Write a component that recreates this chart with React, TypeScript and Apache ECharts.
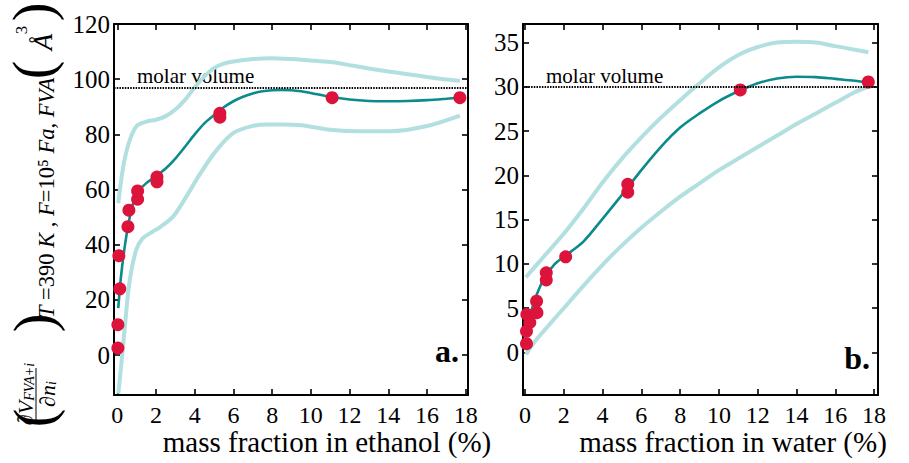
import React, { useEffect, useRef } from "react";
import * as echarts from "echarts";

const FONT = "Liberation Serif, DejaVu Serif, serif";

// ---- Panel a: FVA in ethanol ----
const ethanolPoints: [number, number][] = [
  [0.03, 2.5], [0.03, 11], [0.13, 24], [0.08, 36], [0.55, 46.5], [0.6, 52.5],
  [1.05, 56.5], [1.05, 59.5], [2.05, 64.5], [2.05, 62.8], [5.3, 87.6], [5.3, 86.2],
  [11.1, 93.3], [17.7, 93.3],
];
const ethanolFit: [number, number][] = [
  [0.05, 17], [0.2, 29], [0.4, 40], [0.6, 48.5], [0.8, 54.5], [1.0, 58.5], [1.5, 62.3],
  [2, 64.8], [2.5, 67.6], [3, 71.2], [3.5, 75.5], [4, 80], [4.5, 84], [5, 87], [5.5, 89.8],
  [6, 92], [6.5, 93.6], [7, 94.8], [7.5, 95.6], [8, 96], [8.5, 96.1], [9, 96], [9.5, 95.6],
  [10, 95], [11, 93.6], [12, 92.6], [13, 92.1], [14, 92], [15, 92.1], [16, 92.4], [17, 92.9],
  [17.7, 93.3],
];
const ethanolUpper: [number, number][] = [
  [0.05, 55], [0.3, 68], [0.6, 77], [1.0, 83], [1.5, 84.6], [2, 85.3], [2.5, 86.6], [3, 89],
  [3.5, 92.5], [4, 97], [4.5, 101], [5, 104], [5.5, 105.6], [6, 106.4], [7, 107.3], [8, 107.6],
  [9, 107.3], [10, 106.8], [11, 106.2], [12, 105.1], [13, 103.9], [14, 102.8], [15, 101.8],
  [16, 100.8], [17, 99.9], [17.7, 99.4],
];
const ethanolLower: [number, number][] = [
  [0.05, -14], [0.2, -4], [0.36, 8], [0.62, 26], [0.97, 38], [1.3, 42.2], [1.8, 44.6],
  [2.2, 46.3], [2.86, 50], [3.4, 55.5], [4.26, 65.5], [5.1, 74], [6, 80.5], [6.9, 82.9],
  [7.7, 83.6], [8.5, 83.6], [9.5, 83.3], [11, 81.7], [12.5, 81.1], [14.1, 81.1], [16, 83],
  [17.7, 86.8],
];
const ethanolMolarVolume = 97;

// ---- Panel b: FVA in water ----
const waterPoints: [number, number][] = [
  [0.08, 1.0], [0.08, 2.4], [0.25, 3.4], [0.1, 4.3], [0.6, 5.8], [0.62, 4.5], [1.1, 9.0],
  [1.1, 8.2], [2.1, 10.8], [5.3, 19.0], [5.3, 18.1], [11.1, 29.65], [17.7, 30.55],
];
const waterFit: [number, number][] = [
  [0.05, 2.6], [0.3, 4.5], [0.6, 6.5], [1, 8.4], [1.5, 9.9], [2, 10.8], [3, 12.5], [4, 15.1],
  [5, 17.8], [6, 20.6], [7, 23.2], [8, 25.4], [9, 27], [10, 28.4], [11, 29.5], [12, 30.4],
  [13, 30.95], [14, 31.15], [15, 31.1], [16, 30.9], [17, 30.7], [17.7, 30.5],
];
const waterUpper: [number, number][] = [
  [0.05, 8.5], [1, 10.9], [2, 13.4], [3, 16.2], [4, 19.2], [5, 21.9], [6, 24.3], [7, 26.5],
  [8, 28.5], [9, 30.4], [10, 32.2], [11, 33.6], [12, 34.5], [13, 35], [14, 35.1], [15, 35],
  [16, 34.6], [17, 34.2], [17.7, 33.9],
];
const waterLower: [number, number][] = [
  [0.05, -0.2], [0.5, 1.2], [1, 2.5], [2, 5], [3, 7.5], [4, 9.9], [5, 12.1], [6, 14.1],
  [7, 15.9], [8, 17.6], [9, 19.1], [10, 20.6], [11, 21.9], [12, 23.2], [13, 24.5], [14, 25.8],
  [15, 27], [16, 28.2], [17, 29.4], [17.7, 30],
];
const waterMolarVolume = 30;

// ---- ticks ----
const xTicks = [0, 2, 4, 6, 8, 10, 12, 14, 16, 18];
const ethanolYTicks = [0, 20, 40, 60, 80, 100, 120];
const waterYTicks = [0, 5, 10, 15, 20, 25, 30, 35];

const xNameA = "mass fraction in ethanol (%)";
const xNameB = "mass fraction in water (%)";

const TEAL = "#0b8b8b";
const PALE = "#b2dfdf";
const RED = "#dc143c";

function axisCommon(ticks: number[], showLabel: boolean, isX: boolean) {
  return {
    type: "value" as const,
    axisLine: { show: true, onZero: false, lineStyle: { color: "#000", width: 2 } },
    axisTick: {
      show: true,
      inside: true,
      length: 6,
      customValues: ticks,
      lineStyle: { color: "#000", width: 1.6 },
    },
    axisLabel: {
      show: showLabel,
      customValues: ticks,
      margin: isX ? 8 : 4,
      fontFamily: FONT,
      fontSize: isX ? 24 : 25,
      color: "#000",
    },
    splitLine: { show: false },
  };
}

function txt(text: string, x: number, y: number, size: number, extra: any = {}) {
  const align = extra.align || "left";
  const valign = extra.verticalAlign || "middle";
  return {
    type: "text",
    x,
    y,
    rotation: extra.rotation || 0,
    silent: true,
    style: {
      text,
      fill: "#000",
      fontFamily: FONT,
      fontSize: size,
      fontStyle: extra.fontStyle || "normal",
      fontWeight: extra.fontWeight || "normal",
      align,
      verticalAlign: valign,
      textAlign: align,
      textVerticalAlign: valign,
      rich: extra.rich,
    },
  };
}

function lineSeries(data: [number, number][], xi: number, yi: number, color: string, width: number, z: number) {
  return {
    type: "line",
    xAxisIndex: xi,
    yAxisIndex: yi,
    data,
    showSymbol: false,
    symbol: "none",
    smooth: 0.3,
    z,
    lineStyle: { color, width },
    silent: true,
  };
}

export default function App() {
  const ref = useRef<HTMLDivElement>(null);

  useEffect(() => {
    if (!ref.current) return;
    const chart = echarts.init(ref.current, null, { renderer: "svg" });
    const rot = Math.PI / 2;
    const richSub = {
      d: { fontFamily: FONT, fontSize: 22, fontStyle: "italic" },
      s: { fontFamily: FONT, fontSize: 14, fontStyle: "italic", verticalAlign: "bottom" },
    };
    const richT = {
      i: { fontFamily: FONT, fontSize: 22.5, fontStyle: "italic" },
      r: { fontFamily: FONT, fontSize: 22.5 },
    };

    const option: any = {
      animation: false,
      backgroundColor: "#fff",
      grid: [
        { left: 114, top: 24, width: 354, height: 371 },
        { left: 523, top: 24, width: 355, height: 371 },
      ],
      xAxis: [
        { ...axisCommon(xTicks, true, true), gridIndex: 0, min: -0.17, max: 18.12, position: "bottom" },
        { ...axisCommon(xTicks, false, true), gridIndex: 0, min: -0.17, max: 18.12, position: "top" },
        { ...axisCommon(xTicks, true, true), gridIndex: 1, min: -0.1, max: 18.2, position: "bottom" },
        { ...axisCommon(xTicks, false, true), gridIndex: 1, min: -0.1, max: 18.2, position: "top" },
      ],
      yAxis: [
        { ...axisCommon(ethanolYTicks, true, false), gridIndex: 0, min: -14.5, max: 120, position: "left" },
        { ...axisCommon(ethanolYTicks, false, false), gridIndex: 0, min: -14.5, max: 120, position: "right" },
        { ...axisCommon(waterYTicks, true, false), gridIndex: 1, min: -4.8, max: 37.1, position: "left" },
        { ...axisCommon(waterYTicks, false, false), gridIndex: 1, min: -4.8, max: 37.1, position: "right" },
      ],
      series: [
        lineSeries(ethanolUpper, 0, 0, PALE, 4, 2),
        lineSeries(ethanolLower, 0, 0, PALE, 4, 2),
        {
          ...lineSeries(ethanolFit, 0, 0, TEAL, 2.6, 3),
          markLine: {
            silent: true,
            symbol: "none",
            label: { show: false },
            lineStyle: { color: "#000", width: 1.8, type: [1.5, 1.2] },
            data: [{ yAxis: ethanolMolarVolume }],
          },
        },
        {
          type: "scatter",
          xAxisIndex: 0,
          yAxisIndex: 0,
          data: ethanolPoints,
          symbol: "circle",
          symbolSize: 13,
          itemStyle: { color: RED, opacity: 1 },
          z: 4,
          silent: true,
        },
        lineSeries(waterUpper, 2, 2, PALE, 4, 2),
        lineSeries(waterLower, 2, 2, PALE, 4, 2),
        {
          ...lineSeries(waterFit, 2, 2, TEAL, 2.6, 3),
          markLine: {
            silent: true,
            symbol: "none",
            label: { show: false },
            lineStyle: { color: "#000", width: 1.8, type: [1.5, 1.2] },
            data: [{ yAxis: waterMolarVolume }],
          },
        },
        {
          type: "scatter",
          xAxisIndex: 2,
          yAxisIndex: 2,
          data: waterPoints,
          symbol: "circle",
          symbolSize: 13,
          itemStyle: { color: RED, opacity: 1 },
          z: 4,
          silent: true,
        },
      ],
      graphic: [
        txt("molar volume", 137, 76, 21),
        txt("molar volume", 546, 76, 21),
        txt("a.", 459, 351, 32, { align: "right", fontWeight: "bold" }),
        txt("b.", 870, 358, 32, { align: "right", fontWeight: "bold" }),
        txt(xNameA, 327, 442, 29, { align: "center" }),
        txt(xNameB, 733, 442, 29, { align: "center" }),
        // rotated y-axis label
        txt("(", 34, 418, 56, { align: "center", rotation: rot }),
        txt("{d|∂V}{s|FVA+i}", 25, 394, 22, { align: "center", rotation: rot, rich: richSub }),
        {
          type: "line",
          silent: true,
          shape: { x1: 36, y1: 420, x2: 36, y2: 368 },
          style: { stroke: "#000", lineWidth: 1 },
        },
        txt("{d|∂n}{s|i}", 47, 394, 22, { align: "center", rotation: rot, rich: richSub }),
        txt(")", 34, 323, 56, { align: "center", rotation: rot }),
        txt(
          "{i|T} {r|=390} {i|K} {r|,} {i|F}{r|=10⁵} {i|Fa}{r|,} {i|FVA}",
          46,
          318,
          22.5,
          { align: "left", rotation: rot, rich: richT }
        ),
        txt("(", 33, 70, 56, { align: "center", rotation: rot }),
        txt("Å", 43, 42, 27, { align: "center", rotation: rot, fontStyle: "italic" }),
        txt("3", 21, 30, 17, { align: "center", rotation: rot }),
        txt(")", 33, 12, 56, { align: "center", rotation: rot }),
      ],
    };
    chart.setOption(option);
    return () => chart.dispose();
  }, []);

  return (
    <div
      ref={ref}
      style={{ position: "absolute", left: 0, top: 0, width: 909, height: 463, background: "#fff" }}
    />
  );
}
